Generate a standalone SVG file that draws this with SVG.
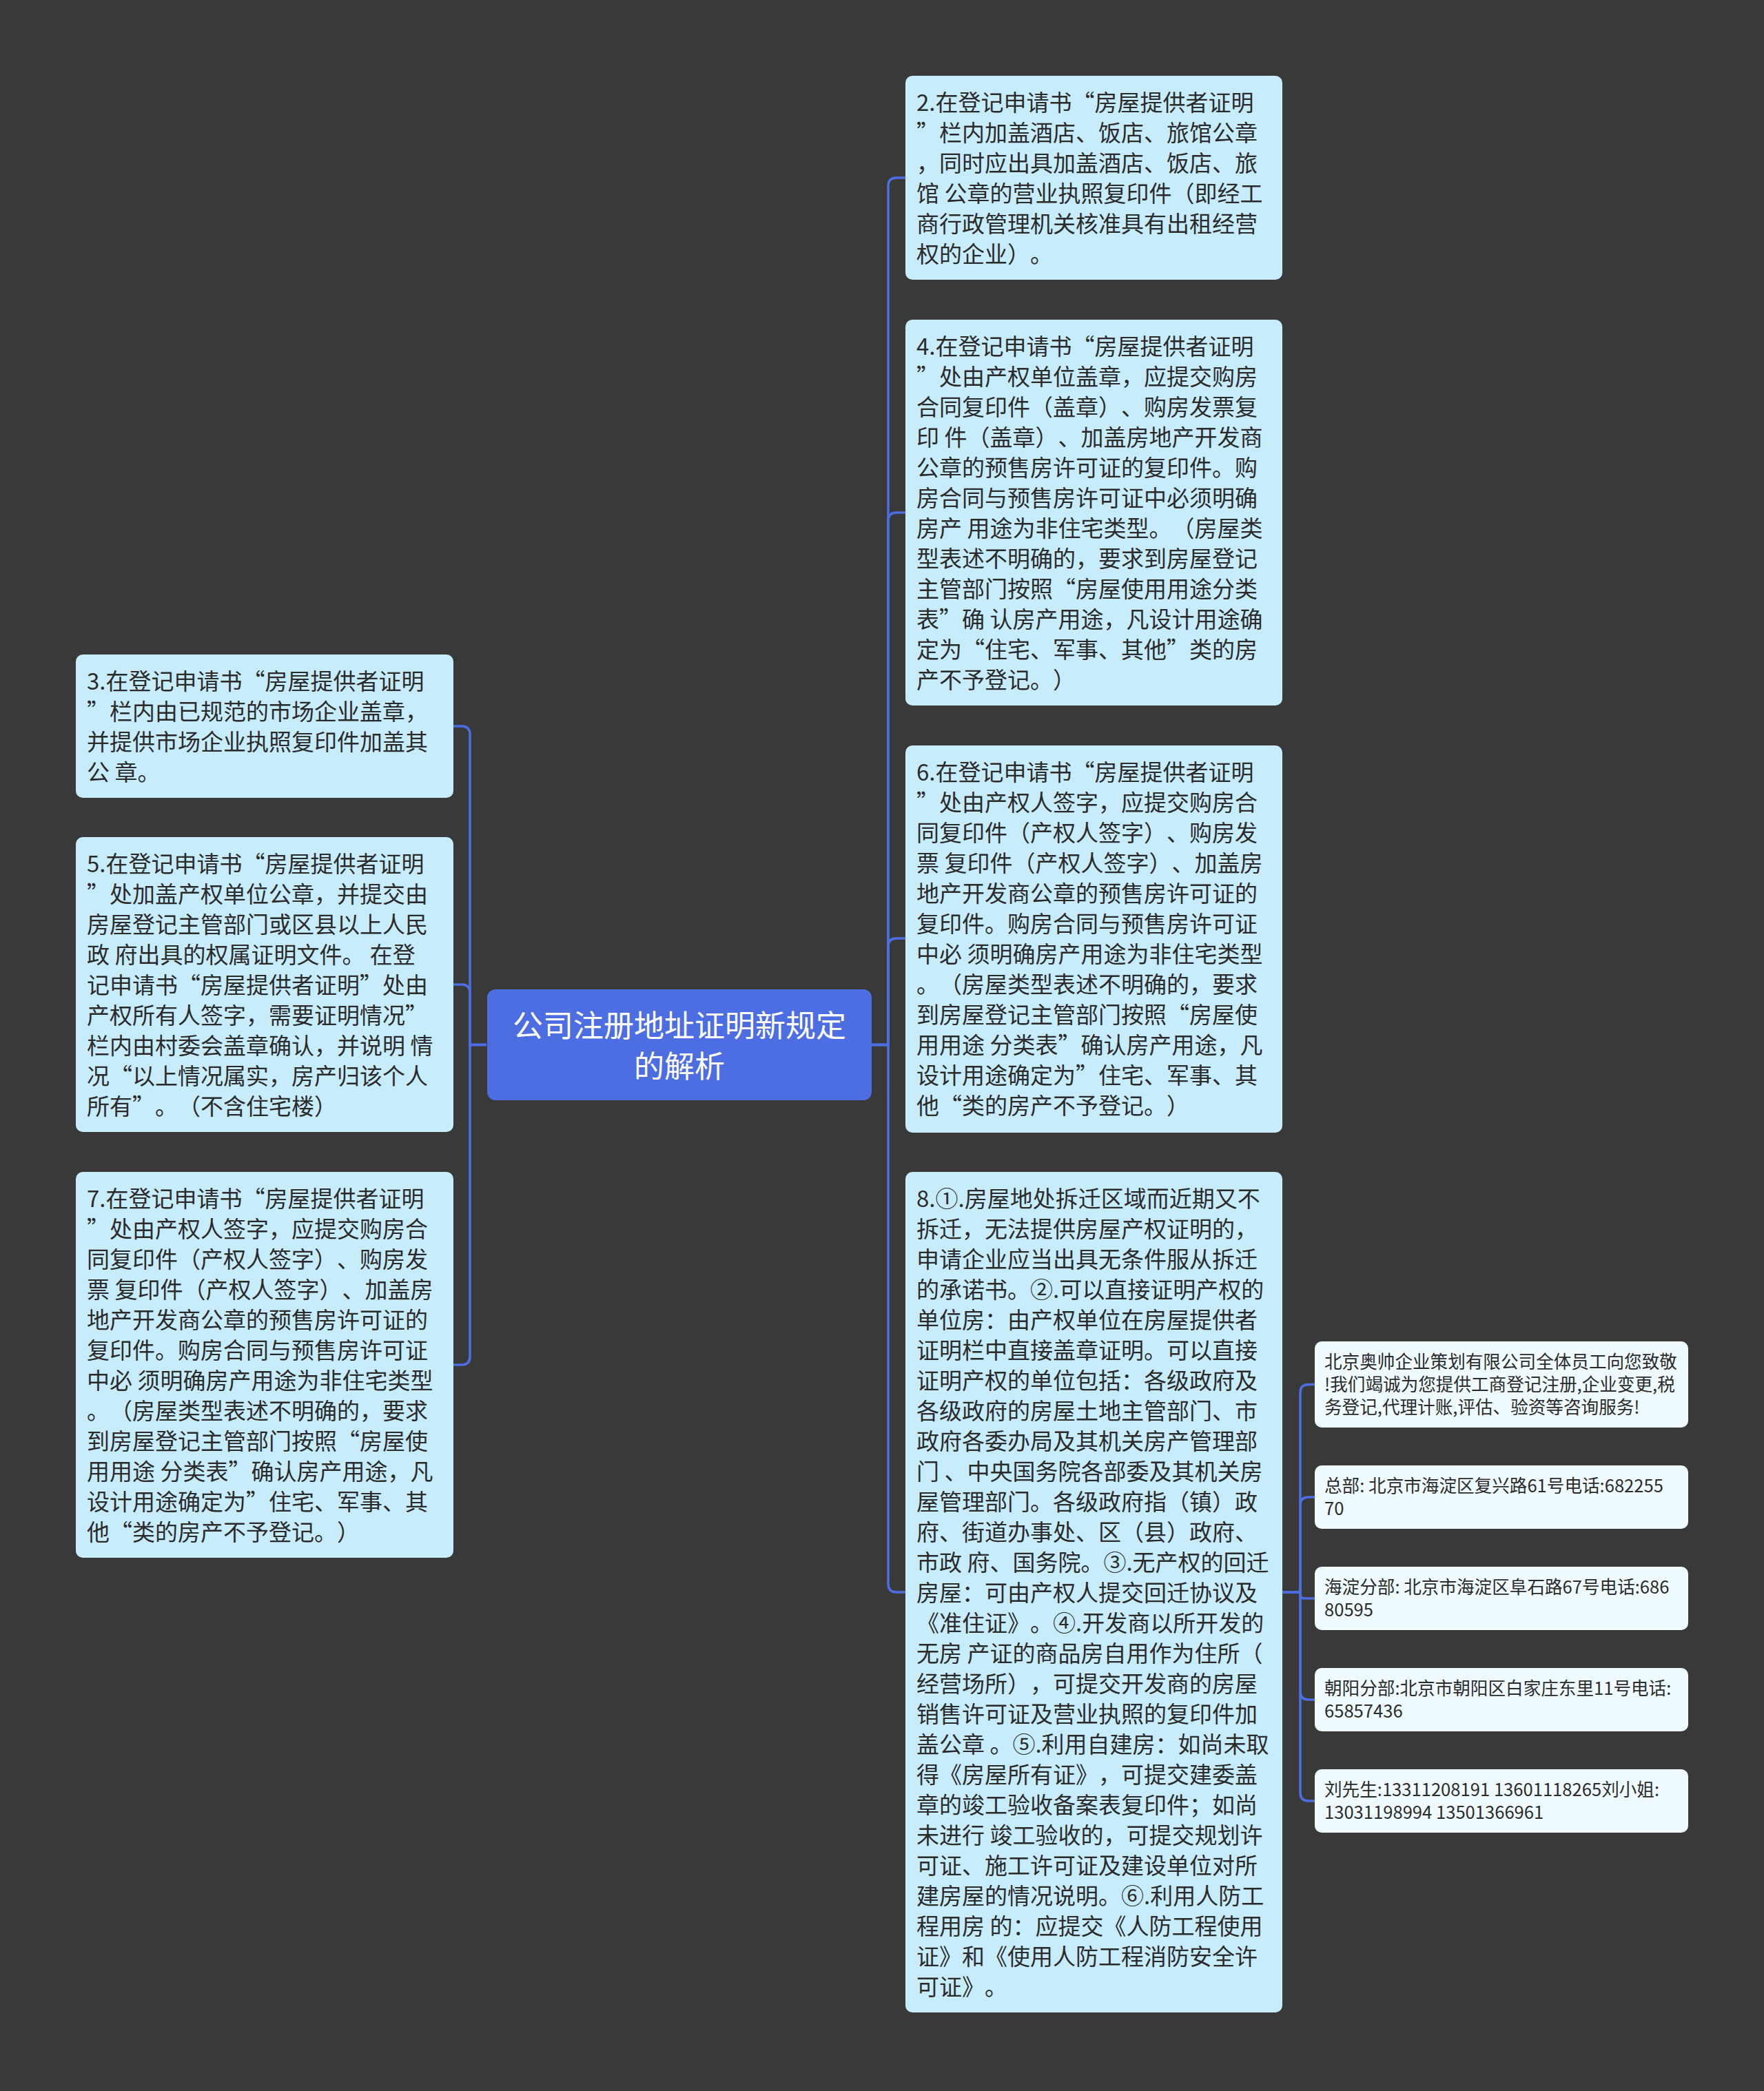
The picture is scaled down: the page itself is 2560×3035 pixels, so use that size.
<svg xmlns="http://www.w3.org/2000/svg" width="2560" height="3035" viewBox="0 0 2560 3035">
<style>
.bg{fill:#393939}
.bx{fill:#c7ecfc}
.sb{fill:#effbfe}
.root{fill:#4d6ee2}
text{text-spacing-trim:space-all;font-kerning:none}
.t{font-family:"Noto Sans CJK SC","Noto Sans",sans-serif;font-size:33px;fill:#2b2b2b}
.ts{font-family:"Noto Sans CJK SC","Noto Sans",sans-serif;font-size:25.6px;fill:#2b2b2b}
.tr{font-family:"Noto Sans CJK SC","Noto Sans",sans-serif;font-size:44px;fill:#ffffff;text-anchor:middle}
.c{stroke:#4d6ee2;stroke-width:3.5;fill:none}
</style>
<rect class="bg" x="0" y="0" width="2560" height="3035"/>
<g id="connectors">
<path class="c" d="M1265,1516.5 H1289 V270 Q1289,258 1301,258 H1314"/>
<path class="c" d="M1265,1516.5 H1289 V756 Q1289,744 1301,744 H1314"/>
<path class="c" d="M1265,1516.5 H1289 V1374 Q1289,1362 1301,1362 H1314"/>
<path class="c" d="M1265,1516.5 H1289 V2299 Q1289,2311 1301,2311 H1314"/>
<path class="c" d="M706,1516.5 H682 V1066 Q682,1054 670,1054 H658"/>
<path class="c" d="M706,1516.5 H682 V1441 Q682,1429 670,1429 H658"/>
<path class="c" d="M706,1516.5 H682 V1969 Q682,1981 670,1981 H658"/>
<path class="c" d="M1861,2311 H1887 V2021.5 Q1887,2009.5 1899,2009.5 H1908"/>
<path class="c" d="M1861,2311 H1887 V2185 Q1887,2173 1899,2173 H1908"/>
<path class="c" d="M1861,2311 H1887 V2314 Q1887,2320 1893,2320 H1908"/>
<path class="c" d="M1861,2311 H1887 V2455 Q1887,2467 1899,2467 H1908"/>
<path class="c" d="M1861,2311 H1887 V2602 Q1887,2614 1899,2614 H1908"/>
</g>
<g id="root">
<rect class="root" x="707" y="1436" width="558" height="161" rx="12"/>
<text class="tr"><tspan x="986" y="1505">公司注册地址证明新规定</tspan><tspan x="986" y="1564">的解析</tspan></text>
</g>
<g id="n2">
<rect class="bx" x="1314" y="110" width="547" height="296" rx="10"/>
<text class="t"><tspan x="1330" y="160.5">2.在登记申请书“房屋提供者证明</tspan><tspan x="1330" dy="44">”栏内加盖酒店、饭店、旅馆公章</tspan><tspan x="1330" dy="44">，同时应出具加盖酒店、饭店、旅</tspan><tspan x="1330" dy="44">馆 公章的营业执照复印件（即经工</tspan><tspan x="1330" dy="44">商行政管理机关核准具有出租经营</tspan><tspan x="1330" dy="44">权的企业）。</tspan></text>
</g>
<g id="n4">
<rect class="bx" x="1314" y="464" width="547" height="560" rx="10"/>
<text class="t"><tspan x="1330" y="514.5">4.在登记申请书“房屋提供者证明</tspan><tspan x="1330" dy="44">”处由产权单位盖章，应提交购房</tspan><tspan x="1330" dy="44">合同复印件（盖章）、购房发票复</tspan><tspan x="1330" dy="44">印 件（盖章）、加盖房地产开发商</tspan><tspan x="1330" dy="44">公章的预售房许可证的复印件。购</tspan><tspan x="1330" dy="44">房合同与预售房许可证中必须明确</tspan><tspan x="1330" dy="44">房产 用途为非住宅类型。（房屋类</tspan><tspan x="1330" dy="44">型表述不明确的，要求到房屋登记</tspan><tspan x="1330" dy="44">主管部门按照“房屋使用用途分类</tspan><tspan x="1330" dy="44">表”确 认房产用途，凡设计用途确</tspan><tspan x="1330" dy="44">定为“住宅、军事、其他”类的房</tspan><tspan x="1330" dy="44">产不予登记。）</tspan></text>
</g>
<g id="n6">
<rect class="bx" x="1314" y="1082" width="547" height="562" rx="10"/>
<text class="t"><tspan x="1330" y="1132.5">6.在登记申请书“房屋提供者证明</tspan><tspan x="1330" dy="44">”处由产权人签字，应提交购房合</tspan><tspan x="1330" dy="44">同复印件（产权人签字）、购房发</tspan><tspan x="1330" dy="44">票 复印件（产权人签字）、加盖房</tspan><tspan x="1330" dy="44">地产开发商公章的预售房许可证的</tspan><tspan x="1330" dy="44">复印件。购房合同与预售房许可证</tspan><tspan x="1330" dy="44">中必 须明确房产用途为非住宅类型</tspan><tspan x="1330" dy="44">。（房屋类型表述不明确的，要求</tspan><tspan x="1330" dy="44">到房屋登记主管部门按照“房屋使</tspan><tspan x="1330" dy="44">用用途 分类表”确认房产用途，凡</tspan><tspan x="1330" dy="44">设计用途确定为”住宅、军事、其</tspan><tspan x="1330" dy="44">他“类的房产不予登记。）</tspan></text>
</g>
<g id="n8">
<rect class="bx" x="1314" y="1701" width="547" height="1220" rx="10"/>
<text class="t"><tspan x="1330" y="1751.5">8.①.房屋地处拆迁区域而近期又不</tspan><tspan x="1330" dy="44">拆迁，无法提供房屋产权证明的，</tspan><tspan x="1330" dy="44">申请企业应当出具无条件服从拆迁</tspan><tspan x="1330" dy="44">的承诺书。②.可以直接证明产权的</tspan><tspan x="1330" dy="44">单位房：由产权单位在房屋提供者</tspan><tspan x="1330" dy="44">证明栏中直接盖章证明。可以直接</tspan><tspan x="1330" dy="44">证明产权的单位包括：各级政府及</tspan><tspan x="1330" dy="44">各级政府的房屋土地主管部门、市</tspan><tspan x="1330" dy="44">政府各委办局及其机关房产管理部</tspan><tspan x="1330" dy="44">门 、中央国务院各部委及其机关房</tspan><tspan x="1330" dy="44">屋管理部门。各级政府指（镇）政</tspan><tspan x="1330" dy="44">府、街道办事处、区（县）政府、</tspan><tspan x="1330" dy="44">市政 府、国务院。③.无产权的回迁</tspan><tspan x="1330" dy="44">房屋：可由产权人提交回迁协议及</tspan><tspan x="1330" dy="44">《准住证》。④.开发商以所开发的</tspan><tspan x="1330" dy="44">无房 产证的商品房自用作为住所（</tspan><tspan x="1330" dy="44">经营场所），可提交开发商的房屋</tspan><tspan x="1330" dy="44">销售许可证及营业执照的复印件加</tspan><tspan x="1330" dy="44">盖公章 。⑤.利用自建房：如尚未取</tspan><tspan x="1330" dy="44">得《房屋所有证》，可提交建委盖</tspan><tspan x="1330" dy="44">章的竣工验收备案表复印件；如尚</tspan><tspan x="1330" dy="44">未进行 竣工验收的，可提交规划许</tspan><tspan x="1330" dy="44">可证、施工许可证及建设单位对所</tspan><tspan x="1330" dy="44">建房屋的情况说明。⑥.利用人防工</tspan><tspan x="1330" dy="44">程用房 的：应提交《人防工程使用</tspan><tspan x="1330" dy="44">证》和《使用人防工程消防安全许</tspan><tspan x="1330" dy="44">可证》。</tspan></text>
</g>
<g id="n3">
<rect class="bx" x="110" y="950" width="548" height="208" rx="10"/>
<text class="t"><tspan x="126" y="1000.5">3.在登记申请书“房屋提供者证明</tspan><tspan x="126" dy="44">”栏内由已规范的市场企业盖章，</tspan><tspan x="126" dy="44">并提供市场企业执照复印件加盖其</tspan><tspan x="126" dy="44">公 章。</tspan></text>
</g>
<g id="n5">
<rect class="bx" x="110" y="1215" width="548" height="428" rx="10"/>
<text class="t"><tspan x="126" y="1265.5">5.在登记申请书“房屋提供者证明</tspan><tspan x="126" dy="44">”处加盖产权单位公章，并提交由</tspan><tspan x="126" dy="44">房屋登记主管部门或区县以上人民</tspan><tspan x="126" dy="44">政 府出具的权属证明文件。 在登</tspan><tspan x="126" dy="44">记申请书“房屋提供者证明”处由</tspan><tspan x="126" dy="44">产权所有人签字，需要证明情况”</tspan><tspan x="126" dy="44">栏内由村委会盖章确认，并说明 情</tspan><tspan x="126" dy="44">况“以上情况属实，房产归该个人</tspan><tspan x="126" dy="44">所有”。（不含住宅楼）</tspan></text>
</g>
<g id="n7">
<rect class="bx" x="110" y="1701" width="548" height="560" rx="10"/>
<text class="t"><tspan x="126" y="1751.5">7.在登记申请书“房屋提供者证明</tspan><tspan x="126" dy="44">”处由产权人签字，应提交购房合</tspan><tspan x="126" dy="44">同复印件（产权人签字）、购房发</tspan><tspan x="126" dy="44">票 复印件（产权人签字）、加盖房</tspan><tspan x="126" dy="44">地产开发商公章的预售房许可证的</tspan><tspan x="126" dy="44">复印件。购房合同与预售房许可证</tspan><tspan x="126" dy="44">中必 须明确房产用途为非住宅类型</tspan><tspan x="126" dy="44">。（房屋类型表述不明确的，要求</tspan><tspan x="126" dy="44">到房屋登记主管部门按照“房屋使</tspan><tspan x="126" dy="44">用用途 分类表”确认房产用途，凡</tspan><tspan x="126" dy="44">设计用途确定为”住宅、军事、其</tspan><tspan x="126" dy="44">他“类的房产不予登记。）</tspan></text>
</g>
<g id="s1">
<rect class="sb" x="1908" y="1947" width="542" height="125" rx="10"/>
<text class="ts"><tspan x="1922" y="1986">北京奥帅企业策划有限公司全体员工向您致敬</tspan><tspan x="1922" dy="33">!我们竭诚为您提供工商登记注册,企业变更,税</tspan><tspan x="1922" dy="33">务登记,代理计账,评估、验资等咨询服务!</tspan></text>
</g>
<g id="s2">
<rect class="sb" x="1908" y="2127" width="542" height="92" rx="10"/>
<text class="ts"><tspan x="1922" y="2166">总部: 北京市海淀区复兴路61号电话:682255</tspan><tspan x="1922" dy="33">70</tspan></text>
</g>
<g id="s3">
<rect class="sb" x="1908" y="2274" width="542" height="92" rx="10"/>
<text class="ts"><tspan x="1922" y="2313">海淀分部: 北京市海淀区阜石路67号电话:686</tspan><tspan x="1922" dy="33">80595</tspan></text>
</g>
<g id="s4">
<rect class="sb" x="1908" y="2421" width="542" height="92" rx="10"/>
<text class="ts"><tspan x="1922" y="2460">朝阳分部:北京市朝阳区白家庄东里11号电话:</tspan><tspan x="1922" dy="33">65857436</tspan></text>
</g>
<g id="s5">
<rect class="sb" x="1908" y="2568" width="542" height="92" rx="10"/>
<text class="ts"><tspan x="1922" y="2607">刘先生:13311208191 13601118265刘小姐:</tspan><tspan x="1922" dy="33">13031198994 13501366961</tspan></text>
</g>
</svg>
